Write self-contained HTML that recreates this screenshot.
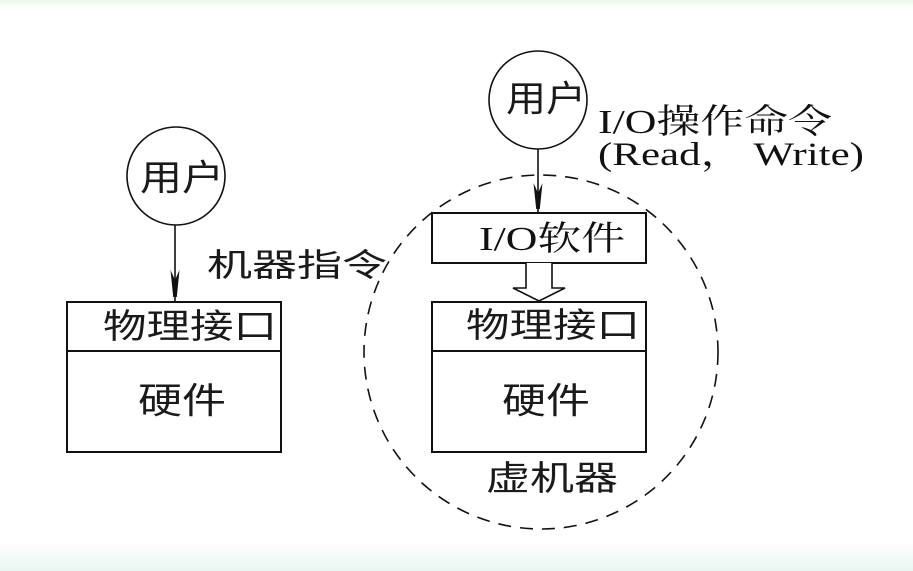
<!DOCTYPE html>
<html>
<head>
<meta charset="utf-8">
<style>
  html, body { margin:0; padding:0; }
  body { width:913px; height:571px; overflow:hidden; background:#ffffff; }
  svg { display:block; }
  .cjk { font-family: "Liberation Sans", "Noto Sans CJK SC", sans-serif; fill:#1a1a1a; }
  .ser { font-family: "Liberation Serif", "Noto Serif CJK SC", "Noto Sans CJK SC", serif; fill:#111; }
</style>
</head>
<body>
<svg width="913" height="571" viewBox="0 0 913 571" xmlns="http://www.w3.org/2000/svg">
  <defs>
    <linearGradient id="bot" x1="0" y1="0" x2="0" y2="1">
      <stop offset="0" stop-color="#ffffff"/>
      <stop offset="1" stop-color="#eaf6f2"/>
    </linearGradient>
    <linearGradient id="top" x1="0" y1="0" x2="0" y2="1">
      <stop offset="0" stop-color="#eef6ec"/>
      <stop offset="1" stop-color="#ffffff"/>
    </linearGradient>
  </defs>
  <rect x="0" y="0" width="913" height="571" fill="#ffffff"/>
  <rect x="0" y="0" width="913" height="8" fill="url(#top)"/>
  <rect x="0" y="542" width="913" height="29" fill="url(#bot)"/>

  <!-- Dashed virtual machine circle -->
  <circle cx="541" cy="352" r="177" fill="none" stroke="#111" stroke-width="1.6" stroke-dasharray="13 9"/>

  <!-- LEFT: user circle -->
  <circle cx="176" cy="176" r="49" fill="none" stroke="#111" stroke-width="1.6"/>
  <text class="cjk" x="140" y="190" font-size="36" textLength="84" lengthAdjust="spacingAndGlyphs">用户</text>
  <line x1="175" y1="225" x2="175" y2="302" stroke="#111" stroke-width="1.6"/>
  <polygon points="170.5,270 175,280 179.5,270 176.8,297 173.2,297" fill="#111"/>

  <text class="cjk" x="207" y="276" font-size="32" textLength="180" lengthAdjust="spacingAndGlyphs">机器指令</text>

  <!-- LEFT box -->
  <rect x="67" y="302" width="214" height="150" fill="none" stroke="#111" stroke-width="2"/>
  <line x1="67" y1="351" x2="281" y2="351" stroke="#111" stroke-width="2"/>
  <text class="cjk" x="103" y="338" font-size="34" textLength="174" lengthAdjust="spacingAndGlyphs">物理接口</text>
  <text class="cjk" x="138" y="413" font-size="36" textLength="88" lengthAdjust="spacingAndGlyphs">硬件</text>

  <!-- RIGHT: user circle -->
  <circle cx="538" cy="100" r="49" fill="none" stroke="#111" stroke-width="1.6"/>
  <text class="cjk" x="506" y="111" font-size="36" textLength="80" lengthAdjust="spacingAndGlyphs">用户</text>
  <line x1="538" y1="149" x2="538" y2="213" stroke="#111" stroke-width="1.6"/>
  <polygon points="533.5,183 538,193 542.5,183 539.8,209 536.2,209" fill="#111"/>

  <text class="ser" x="598" y="133" font-size="34" textLength="234" lengthAdjust="spacingAndGlyphs">I/O操作命令</text>
  <text class="ser" x="598" y="165" font-size="33" textLength="266" lengthAdjust="spacingAndGlyphs">(Read， Write)</text>

  <!-- I/O software box -->
  <rect x="432" y="213" width="214" height="50" fill="#fff" stroke="#111" stroke-width="2"/>
  <text class="ser" x="479" y="250" font-size="34" textLength="146" lengthAdjust="spacingAndGlyphs">I/O软件</text>

  <!-- hollow arrow -->
  <path d="M526,263 V288 H513 L539,301 L565,288 H552 V263" fill="#fff" stroke="#111" stroke-width="1.6" stroke-linejoin="miter"/>

  <!-- RIGHT box -->
  <rect x="432" y="302" width="214" height="150" fill="#fff" stroke="#111" stroke-width="2"/>
  <line x1="432" y1="351" x2="646" y2="351" stroke="#111" stroke-width="2"/>
  <text class="cjk" x="466" y="337" font-size="34" textLength="174" lengthAdjust="spacingAndGlyphs">物理接口</text>
  <text class="cjk" x="502" y="413" font-size="36" textLength="88" lengthAdjust="spacingAndGlyphs">硬件</text>

  <text class="cjk" x="486" y="490" font-size="34" textLength="132" lengthAdjust="spacingAndGlyphs">虚机器</text>
</svg>
</body>
</html>
